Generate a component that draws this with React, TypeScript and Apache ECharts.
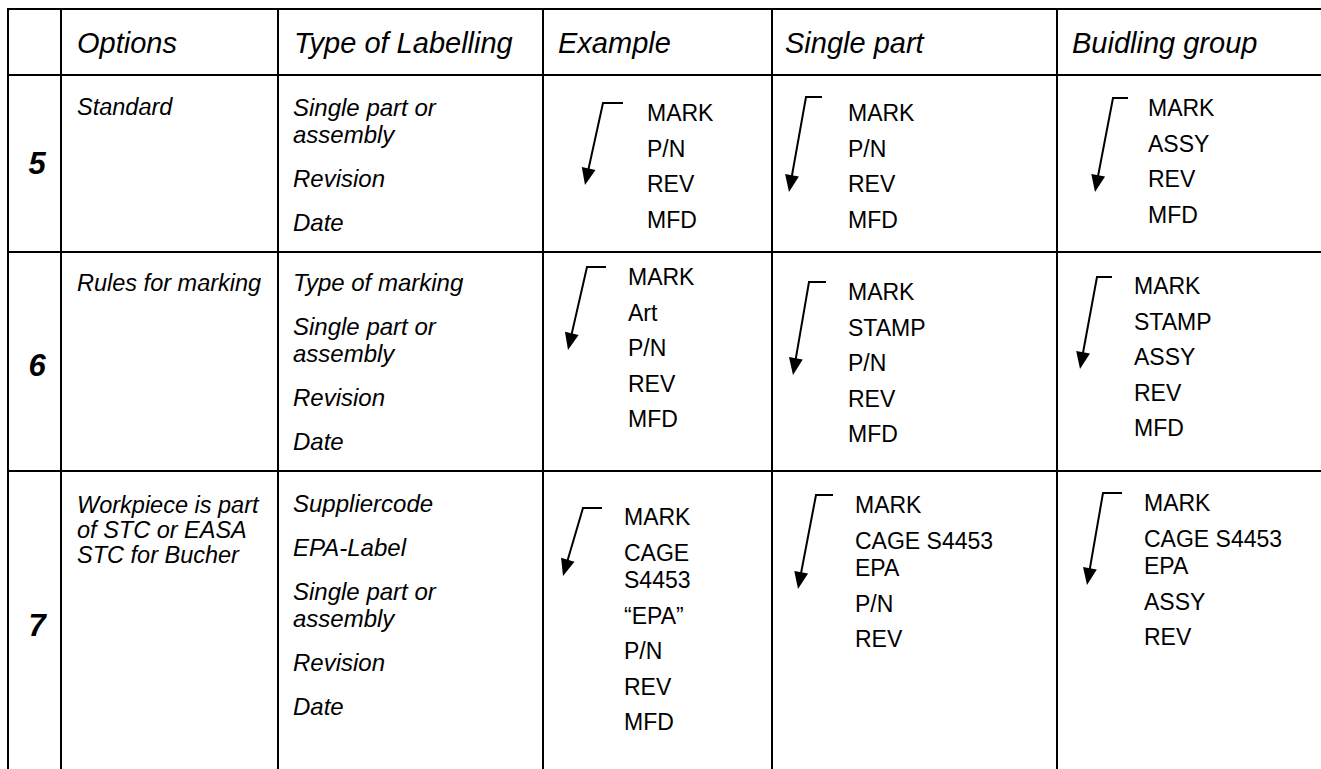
import React, { useEffect, useRef } from "react";
import * as echarts from "echarts";

// ---- Content ----
const HEADERS = ["Options", "Type of Labelling", "Example", "Single part", "Buidling group"];
const ROW_NUMBERS = ["5", "6", "7"];
const OPTIONS = [
  ["Standard"],
  ["Rules for marking"],
  ["Workpiece is part", "of STC or EASA", "STC for Bucher"],
];
const LABELLING = [
  ["Single part or\nassembly", "Revision", "Date"],
  ["Type of marking", "Single part or\nassembly", "Revision", "Date"],
  ["Suppliercode", "EPA-Label", "Single part or\nassembly", "Revision", "Date"],
];
const EXAMPLE = [
  ["MARK", "P/N", "REV", "MFD"],
  ["MARK", "Art", "P/N", "REV", "MFD"],
  ["MARK", "CAGE\nS4453", "\u201CEPA\u201D", "P/N", "REV", "MFD"],
];
const SINGLE_PART = [
  ["MARK", "P/N", "REV", "MFD"],
  ["MARK", "STAMP", "P/N", "REV", "MFD"],
  ["MARK", "CAGE S4453\nEPA", "P/N", "REV"],
];
const BUILDING_GROUP = [
  ["MARK", "ASSY", "REV", "MFD"],
  ["MARK", "STAMP", "ASSY", "REV", "MFD"],
  ["MARK", "CAGE S4453\nEPA", "ASSY", "REV"],
];

// ---- Layout (pixels) ----
const W = 1321;
const H = 769;
const FONT = "'Liberation Sans', Arial, Helvetica, sans-serif";
const COL_X = [8, 61, 278, 543, 772, 1057];
const ROW_Y = [9, 75, 252, 471];
const HEADER_X = [77, 294, 558, 785, 1072];
const HEADER_Y = 43;
const ROWNUM_X = 37;
const ROWNUM_Y = [163, 365, 625];
const OPT_X = 77;
const OPT_Y = [107, 283, 505];
const LAB_X = 293;
const LAB_Y = [107, 282, 503];
const VAL_COLS = [
  { data: EXAMPLE, x: [647, 628, 624], y: [113, 277, 517] },
  { data: SINGLE_PART, x: [848, 848, 855], y: [113, 292, 505] },
  { data: BUILDING_GROUP, x: [1148, 1134, 1144], y: [108, 286, 503] },
];
// arrows: [hookRightX, hookY, cornerX, cornerY, tipX, tipY]
const ARROWS = [
  [623, 103, 603, 103, 585, 185],
  [822, 97, 806, 97, 789, 192],
  [1128, 98, 1113, 98, 1095, 192],
  [606, 267, 587, 267, 568, 350],
  [826, 282, 809, 282, 793, 375],
  [1112, 277, 1097, 277, 1080, 369],
  [602, 508, 583, 508, 563, 576],
  [833, 495, 816, 495, 798, 589],
  [1122, 493, 1103, 493, 1087, 585],
];

function txt(text: string, x: number, y: number, size: number, style = "normal", weight = "normal") {
  return {
    type: "text",
    x,
    y,
    silent: true,
    style: {
      text,
      fill: "#000",
      fontSize: size,
      fontFamily: FONT,
      fontStyle: style,
      fontWeight: weight,
      align: "left",
      verticalAlign: "middle",
    },
  };
}

function stacked(items: string[], x: number, y0: number, itemGap: number, wrapGap: number, size: number, style: string) {
  const out: any[] = [];
  let y = y0;
  items.forEach((item, i) => {
    if (i > 0) y += itemGap;
    const lines = item.split("\n");
    lines.forEach((ln, j) => {
      if (j > 0) y += wrapGap;
      out.push(txt(ln, x, y, size, style));
    });
  });
  return out;
}

function arrow(a: number[]) {
  const [rx, ry, cx, cy, tx, ty] = a;
  const dx = tx - cx;
  const dy = ty - cy;
  const len = Math.hypot(dx, dy);
  const ux = dx / len;
  const uy = dy / len;
  const headLen = 17;
  const headHalf = 7;
  const bx = tx - ux * headLen;
  const by = ty - uy * headLen;
  const px = -uy;
  const py = ux;
  return [
    {
      type: "polyline",
      silent: true,
      shape: { points: [[rx, ry], [cx, cy], [bx + ux * 3, by + uy * 3]] },
      style: { stroke: "#000", lineWidth: 2, fill: null },
    },
    {
      type: "polygon",
      silent: true,
      shape: {
        points: [
          [tx, ty],
          [bx + px * headHalf, by + py * headHalf],
          [bx - px * headHalf, by - py * headHalf],
        ],
      },
      style: { fill: "#000" },
    },
  ];
}

function line(x1: number, y1: number, x2: number, y2: number) {
  return {
    type: "line",
    silent: true,
    shape: { x1, y1, x2, y2 },
    style: { stroke: "#000", lineWidth: 2 },
  };
}

function buildElements() {
  const els: any[] = [];
  // grid
  ROW_Y.forEach((y) => els.push(line(COL_X[0] - 1, y, W, y)));
  COL_X.forEach((x) => els.push(line(x, ROW_Y[0] - 1, x, H)));
  // headers
  HEADERS.forEach((h, i) => els.push(txt(h, HEADER_X[i], HEADER_Y, 29, "italic")));
  // row numbers
  ROW_NUMBERS.forEach((n, i) => {
    const t: any = txt(n, ROWNUM_X, ROWNUM_Y[i], 31, "italic", "bold");
    t.style.align = "center";
    els.push(t);
  });
  // options
  OPTIONS.forEach((lines, r) => {
    lines.forEach((ln, j) => els.push(txt(ln, OPT_X, OPT_Y[r] + j * 25, 23.5, "italic")));
  });
  // type of labelling
  LABELLING.forEach((items, r) => {
    els.push(...stacked(items, LAB_X, LAB_Y[r], 44, 27, 24, "italic"));
  });
  // values
  VAL_COLS.forEach((col) => {
    col.data.forEach((items, r) => {
      els.push(...stacked(items, col.x[r], col.y[r], 35.5, 27.5, 23, "normal"));
    });
  });
  // arrows
  ARROWS.forEach((a) => els.push(...arrow(a)));
  return els;
}

export default function App() {
  const ref = useRef<HTMLDivElement>(null);
  useEffect(() => {
    if (!ref.current) return;
    const chart = echarts.init(ref.current, undefined, { renderer: "svg", width: W, height: H });
    chart.setOption({
      animation: false,
      backgroundColor: "#ffffff",
      graphic: { elements: buildElements() },
    });
    return () => chart.dispose();
  }, []);
  return (
    <div
      ref={ref}
      style={{ position: "fixed", left: 0, top: 0, width: W, height: H, background: "#fff" }}
    />
  );
}
